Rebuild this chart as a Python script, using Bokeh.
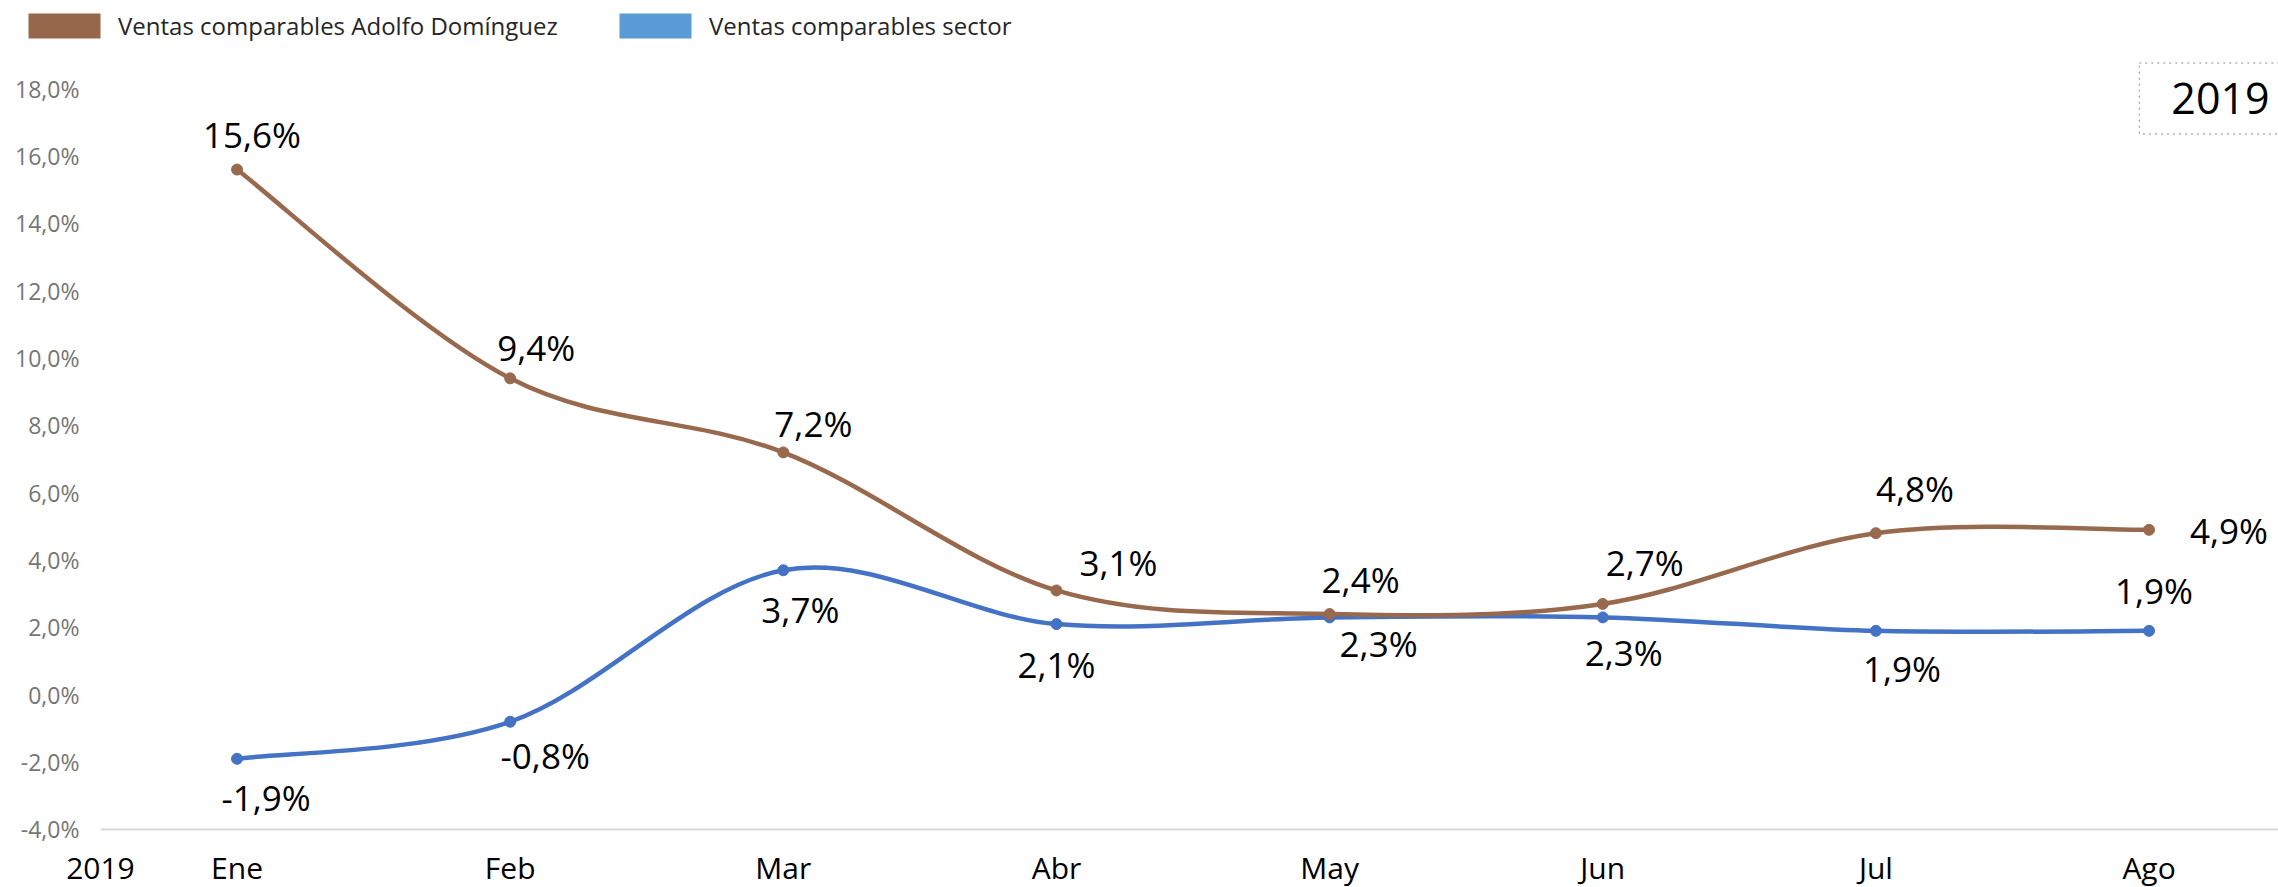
import numpy as np
from bokeh.plotting import figure
from bokeh.models import ColumnDataSource, FixedTicker, Legend, LegendItem, Label, Range1d
from bokeh.core.properties import value
from bokeh.embed import file_html
from bokeh.resources import INLINE

# ---------------- data ----------------
months = ["Ene", "Feb", "Mar", "Abr", "May", "Jun", "Jul", "Ago"]
ventas_adolfo = [15.6, 9.4, 7.2, 3.1, 2.4, 2.7, 4.8, 4.9]
ventas_sector = [-1.9, -0.8, 3.7, 2.1, 2.3, 2.3, 1.9, 1.9]
y_ticks = [-4, -2, 0, 2, 4, 6, 8, 10, 12, 14, 16, 18]
y_tick_labels = ["-4,0%", "-2,0%", "0,0%", "2,0%", "4,0%", "6,0%", "8,0%",
                 "10,0%", "12,0%", "14,0%", "16,0%", "18,0%"]
series_names = ["Ventas comparables Adolfo Domínguez", "Ventas comparables sector"]
year_text = "2019"

# ---------------- layout / style ----------------
FONT = value("Open Sans")
BROWN = "#98694D"
BROWN_SW = "#97674B"
BLUE = "#4472C4"
BLUE_SW = "#5B9BD5"
FRAME_W, FRAME_H = 2278, 887
X_START, X_AXIS_START, X_END = -0.866, -0.5, 7.474
Y_START, Y_AXIS_START, Y_END = -5.7226, -4, 20.621

# label offsets in screen px (dx, dy) for each point
off_adolfo_dx = [15, 26, 30, 62, 31, 42, 39, 80]
off_adolfo_dy = [-35, -31, -29, -28, -35, -41, -45, 1]
off_sector_dx = [29, 35, 17, 0, 49, 21, 26, 5]
off_sector_dy = [39, 34, 39, 40, 26, 35, 38, -40]


def fmt(v):
    return ("%.1f" % v).replace(".", ",") + "%"


def smooth_segments(xs, ys):
    xs = np.asarray(xs, float)
    ys = np.asarray(ys, float)
    n = len(xs)
    qx = np.concatenate([[xs[0]], xs, [xs[-1]]])
    qy = np.concatenate([[ys[0]], ys, [ys[-1]]])
    return dict(
        x0=xs[:-1], y0=ys[:-1], x1=xs[1:], y1=ys[1:],
        cx0=qx[1:n] + (qx[2:n + 1] - qx[0:n - 1]) / 6.0,
        cy0=qy[1:n] + (qy[2:n + 1] - qy[0:n - 1]) / 6.0,
        cx1=qx[2:n + 1] - (qx[3:n + 2] - qx[1:n]) / 6.0,
        cy1=qy[2:n + 1] - (qy[3:n + 2] - qy[1:n]) / 6.0,
    )


x = np.arange(len(months))

p = figure(frame_width=FRAME_W, frame_height=FRAME_H,
           x_range=Range1d(X_START, X_END), y_range=Range1d(Y_START, Y_END),
           output_backend="svg", toolbar_location=None,
           min_border_left=0, min_border_right=0,
           min_border_top=0, min_border_bottom=0)
p.outline_line_color = None
p.xgrid.visible = False
p.ygrid.visible = False
p.background_fill_color = "white"
p.border_fill_color = "white"

# x axis (category labels + year), anchored at the bottom of the value range
x_tick_pos = [X_AXIS_START] + [int(i) for i in x]
x_tick_txt = [year_text] + months
p.xaxis.fixed_location = Y_AXIS_START
p.xaxis.ticker = FixedTicker(ticks=x_tick_pos)
p.xaxis.major_label_overrides = {t: m for t, m in zip(x_tick_pos, x_tick_txt)}
p.xaxis.bounds = (X_AXIS_START, X_END)
p.xaxis.axis_line_color = "#d9d9d9"
p.xaxis.axis_line_width = 2
p.xaxis.major_tick_line_color = None
p.xaxis.minor_tick_line_color = None
p.xaxis.major_label_text_font = "Open Sans"
p.xaxis.major_label_text_font_size = "30px"
p.xaxis.major_label_text_color = "black"
p.xaxis.major_label_standoff = 12

# y axis, anchored at the start of the category axis
p.yaxis.fixed_location = X_AXIS_START
p.yaxis.ticker = FixedTicker(ticks=y_ticks)
p.yaxis.major_label_overrides = {t: l for t, l in zip(y_ticks, y_tick_labels)}
p.yaxis.axis_line_color = None
p.yaxis.major_tick_line_color = None
p.yaxis.minor_tick_line_color = None
p.yaxis.major_label_text_font = "Open Sans"
p.yaxis.major_label_text_font_size = "23px"
p.yaxis.major_label_text_color = "#767676"
p.yaxis.major_label_standoff = 15

# smooth lines
seg_s = ColumnDataSource(smooth_segments(x, ventas_sector))
seg_a = ColumnDataSource(smooth_segments(x, ventas_adolfo))
p.bezier(x0="x0", y0="y0", x1="x1", y1="y1", cx0="cx0", cy0="cy0", cx1="cx1", cy1="cy1",
         source=seg_s, line_color=BLUE, line_width=4.5)
p.scatter(x, ventas_sector, marker="circle", size=11, fill_color=BLUE, line_color=BLUE)
p.bezier(x0="x0", y0="y0", x1="x1", y1="y1", cx0="cx0", cy0="cy0", cx1="cx1", cy1="cy1",
         source=seg_a, line_color=BROWN, line_width=4.5)
p.scatter(x, ventas_adolfo, marker="circle", size=11, fill_color=BROWN, line_color=BROWN)

# data labels
lab_a = ColumnDataSource(dict(x=x, y=ventas_adolfo, t=[fmt(v) for v in ventas_adolfo],
                              dx=off_adolfo_dx, dy=off_adolfo_dy))
lab_s = ColumnDataSource(dict(x=x, y=ventas_sector, t=[fmt(v) for v in ventas_sector],
                              dx=off_sector_dx, dy=off_sector_dy))
for src in (lab_a, lab_s):
    p.text(x="x", y="y", text="t", x_offset="dx", y_offset="dy", source=src,
           text_font=FONT, text_font_size="35px", text_color="black",
           text_align="center", text_baseline="middle")

# legends (swatch proxies carry no visible data)
leg_a = p.quad(left=[np.nan], right=[np.nan], top=[np.nan], bottom=[np.nan],
               fill_color=BROWN_SW, line_color=None)
leg_s = p.quad(left=[np.nan], right=[np.nan], top=[np.nan], bottom=[np.nan],
               fill_color=BLUE_SW, line_color=None)
for r, name, lx in ((leg_a, series_names[0], 19), (leg_s, series_names[1], 610)):
    lg = Legend(items=[LegendItem(label=name, renderers=[r])], location=(lx, 845),
                orientation="horizontal", glyph_width=90, glyph_height=31,
                label_standoff=9, padding=0, margin=0, spacing=0,
                border_line_alpha=0, background_fill_alpha=0,
                label_text_font="Open Sans", label_text_font_size="24px",
                label_text_color="#262626")
    p.add_layout(lg)

# year box top right
p.add_layout(Label(x=2220, y=789, x_units="screen", y_units="screen", text=year_text,
                   text_font="Open Sans", text_font_size="43px", text_color="black",
                   text_align="center", text_baseline="middle",
                   border_line_color="#8c8c8c", border_line_dash="dotted", border_line_width=1,
                   background_fill_color="white",
                   padding=dict(left=32, right=32, top=20, bottom=20)))

open("out.html", "w").write(file_html(p, INLINE))
